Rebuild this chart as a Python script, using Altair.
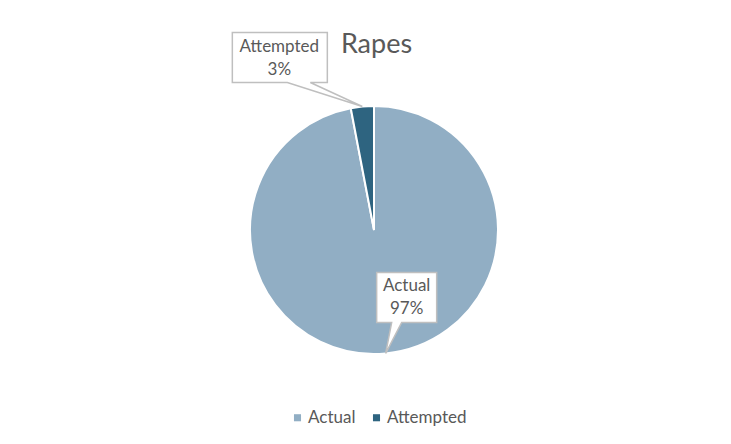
import altair as alt
import pandas as pd

categories = ["Actual", "Attempted"]
shares = [97, 3]
pct_labels = ["97%", "3%"]
order = [1, 2]
colors = ["#91AEC4", "#2E6480"]

df = pd.DataFrame({"category": categories, "share": shares, "pct": pct_labels, "order": order})

CX, CY, R = 366, 222, 124
TEXT = "#595959"
FONT = "Lato"

base = alt.Chart(df)

pie = base.mark_arc(outerRadius=R, stroke="white", strokeWidth=2).encode(
    theta=alt.Theta("share:Q", stack=True),
    order=alt.Order("order:Q"),
    color=alt.Color(
        "category:N",
        scale=alt.Scale(domain=categories, range=colors),
        legend=alt.Legend(
            orient="none", legendX=281, legendY=401, direction="horizontal",
            title=None, symbolType="square", symbolSize=50, symbolStrokeWidth=0,
            labelFont=FONT, labelFontSize=17, labelColor=TEXT, columnPadding=12,
            labelOffset=2,
        ),
    ),
    x=alt.value(CX),
    y=alt.value(CY),
)

tips = base.transform_window(
    cum="sum(share)", sort=[alt.SortField("order")]
).transform_joinaggregate(total="sum(share)").transform_calculate(
    mid="2*PI*(datum.cum - datum.share/2)/datum.total",
    tx=f"{CX} + {R}*sin(datum.mid)",
    ty=f"{CY} - {R}*cos(datum.mid)",
    label="datum.category + '\\n' + datum.pct",
)

callout_specs = {
    "Actual": ("M0,0 L6,-31 L-9,-31 L-9,-81 L51,-81 L51,-31 L16,-31 Z", 21, -67),
    "Attempted": ("M0,0 L-52,-24 L-35,-24 L-35,-74 L-130,-74 L-130,-24 L-75,-24 Z", -83, -60),
}

layers = [pie]
for cat, (path, dx, dy) in callout_specs.items():
    sub = tips.transform_filter(alt.datum.category == cat)
    box = sub.mark_point(
        shape=path, size=4, filled=True, fill="white", stroke="#BFBFBF",
        strokeWidth=1.5, opacity=1,
    ).encode(x=alt.X("tx:Q", scale=None), y=alt.Y("ty:Q", scale=None))
    txt = sub.mark_text(
        lineBreak="\n", font=FONT, fontSize=17, color=TEXT, align="center",
        baseline="middle", lineHeight=23, dx=dx, dy=dy,
    ).encode(x=alt.X("tx:Q", scale=None), y=alt.Y("ty:Q", scale=None), text="label:N")
    layers += [box, txt]

chart = alt.layer(*layers).properties(
    width=715, height=428,
    autosize=alt.AutoSizeParams(type="none"),
    padding=0,
    title=alt.Title("Rapes", font=FONT, fontSize=27, color=TEXT, fontWeight="normal",
                    anchor="middle", dx=11, dy=76, baseline="alphabetic"),
).configure_view(stroke=None)

chart.save("out.html", embed_options={"renderer": "svg", "actions": False})
